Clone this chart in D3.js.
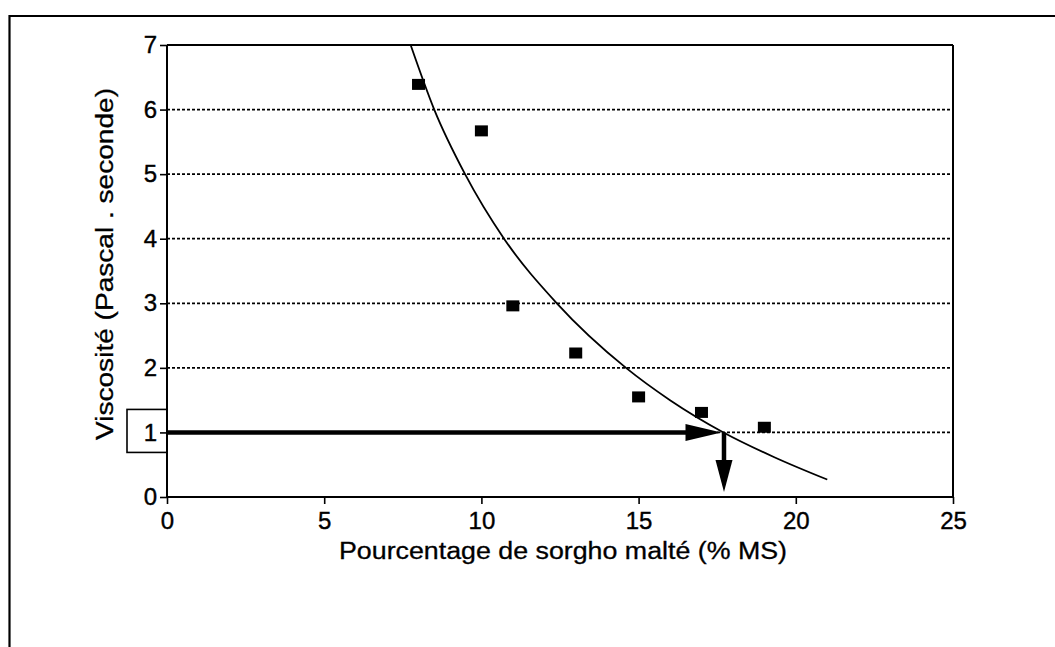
<!DOCTYPE html>
<html><head><meta charset="utf-8">
<script src="https://cdn.jsdelivr.net/npm/d3@7"></script>
<style>
html,body{margin:0;padding:0;background:#fff;}
svg{display:block;}
text{font-family:"Liberation Sans",Arial,Helvetica,sans-serif;fill:#000;}
</style></head>
<body>
<svg id="chart" width="1055" height="647"></svg>
<script>
// ---- data ----
const pointX = [8, 10, 11, 13, 15, 17, 19];
const pointY = [6.39, 5.67, 2.96, 2.23, 1.55, 1.31, 1.08];
const curveX = [7.75, 8.5, 9.48, 10.72, 12.4, 14.6, 16.0, 17.7, 19.3, 21.0];
const curveY = [7.0, 6.0, 5.0, 4.0, 3.0, 2.0, 1.5, 1.0, 0.62, 0.27];
const xTicks = [0, 5, 10, 15, 20, 25];
const yTicks = [0, 1, 2, 3, 4, 5, 6, 7];
const gridY = [1, 2, 3, 4, 5, 6];
const readX = 17.7;      // read-off x value
const readY = 1;         // target viscosity
const xTitle = "Pourcentage de sorgho malté (% MS)";
const yTitle = "Viscosité (Pascal . seconde)";

// ---- layout ----
const L = 167, R = 953, T = 45, B = 497;
const svg = d3.select("#chart");
const x = d3.scaleLinear().domain([0, 25]).range([L, R]);
const y = d3.scaleLinear().domain([0, 7]).range([B, T]);

// outer frame (left + top lines)
svg.append("line").attr("x1", 9.5).attr("x2", 9.5).attr("y1", 15).attr("y2", 647)
  .attr("stroke", "#000").attr("stroke-width", 2.2);
svg.append("line").attr("x1", 9).attr("x2", 1055).attr("y1", 16).attr("y2", 16)
  .attr("stroke", "#000").attr("stroke-width", 2.2);

// gridlines
svg.append("g").selectAll("line").data(gridY).join("line")
  .attr("x1", L).attr("x2", R).attr("y1", d => y(d)).attr("y2", d => y(d))
  .attr("stroke", "#000").attr("stroke-width", 1.8).attr("stroke-dasharray", "3,2");

// plot top/right borders
svg.append("line").attr("x1", L).attr("x2", R).attr("y1", T).attr("y2", T)
  .attr("stroke", "#000").attr("stroke-width", 2);
svg.append("line").attr("x1", R).attr("x2", R).attr("y1", T).attr("y2", B)
  .attr("stroke", "#000").attr("stroke-width", 2);

// axes
const xAxis = d3.axisBottom(x).tickValues(xTicks).tickSize(7).tickPadding(8).tickFormat(d3.format("d"));
const yAxis = d3.axisLeft(y).tickValues(yTicks).tickSize(7).tickPadding(3).tickFormat(d3.format("d"));
const gx = svg.append("g").attr("transform", `translate(0,${B})`).call(xAxis);
const gy = svg.append("g").attr("transform", `translate(${L},0)`).call(yAxis);
[gx, gy].forEach(g => {
  g.select(".domain").attr("stroke", "#000").attr("stroke-width", 2);
  g.selectAll(".tick line").attr("stroke", "#000").attr("stroke-width", 1.6);
  g.selectAll(".tick text").attr("font-size", 24).attr("font-family", "Liberation Sans, Arial, sans-serif")
    .attr("fill", "#000").attr("stroke", "#000").attr("stroke-width", 0.4);
});
gy.select(".domain").attr("d", `M0,${B}V${T}`);
gx.select(".domain").attr("d", `M${L},0H${R}`);

// box around "1"
svg.append("rect").attr("x", 127).attr("y", y(readY) - 23).attr("width", L - 127).attr("height", 43)
  .attr("fill", "none").attr("stroke", "#000").attr("stroke-width", 1.6);

// fitted curve
const line = d3.line().x((d, i) => x(curveX[i])).y((d, i) => y(curveY[i])).curve(d3.curveMonotoneX);
svg.append("path").datum(curveX).attr("d", line)
  .attr("fill", "none").attr("stroke", "#000").attr("stroke-width", 1.8);

// points
svg.append("g").selectAll("rect").data(pointX).join("rect")
  .attr("x", (d) => x(d) - 6.5).attr("y", (d, i) => y(pointY[i]) - 5.5)
  .attr("width", 13).attr("height", 11).attr("fill", "#000");

// arrows
const hx1 = x(0), hx2 = x(readX) - 2, hy = y(readY);
svg.append("line").attr("x1", hx1).attr("x2", hx2 - 30).attr("y1", hy).attr("y2", hy)
  .attr("stroke", "#000").attr("stroke-width", 4.5);
svg.append("path").attr("d", `M${hx2},${hy} L${hx2 - 36},${hy - 8.5} L${hx2 - 36},${hy + 8.5} Z`).attr("fill", "#000");
const vx = x(readX) + 0.5, vy1 = y(readY), vy2 = B - 5;
svg.append("line").attr("x1", vx).attr("x2", vx).attr("y1", vy1).attr("y2", vy2 - 25)
  .attr("stroke", "#000").attr("stroke-width", 4.5);
svg.append("path").attr("d", `M${vx},${vy2} L${vx - 8.5},${vy2 - 32} L${vx + 8.5},${vy2 - 32} Z`).attr("fill", "#000");

// titles
svg.append("text").attr("x", 563).attr("y", 559).attr("text-anchor", "middle")
  .attr("font-size", 23).attr("textLength", 448).attr("lengthAdjust", "spacingAndGlyphs")
  .attr("stroke", "#000").attr("stroke-width", 0.3).text(xTitle);
svg.append("text").attr("transform", `translate(113,264) rotate(-90)`).attr("text-anchor", "middle")
  .attr("font-size", 23).attr("textLength", 352).attr("lengthAdjust", "spacingAndGlyphs")
  .attr("stroke", "#000").attr("stroke-width", 0.3).text(yTitle);
</script>
</body></html>
